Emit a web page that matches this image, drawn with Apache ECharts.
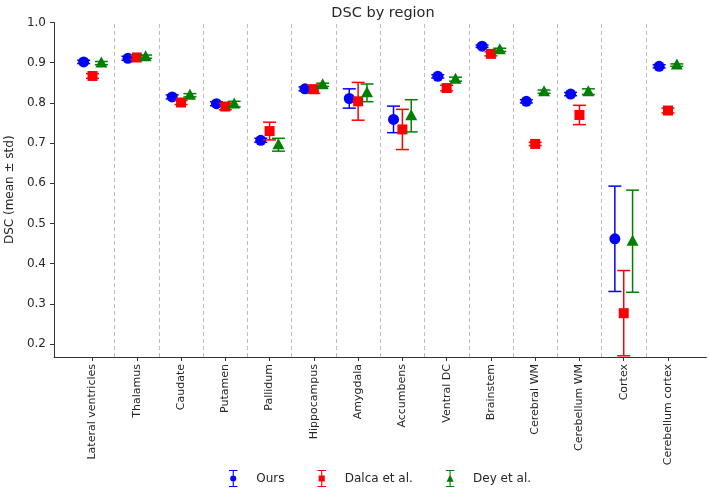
<!DOCTYPE html>
<html>
<head>
<meta charset="utf-8">
<script src="https://cdn.jsdelivr.net/npm/echarts@6/dist/echarts.min.js"></script>
<style>
  html, body { margin: 0; padding: 0; background: #fff; }
  #ch-main { width: 709px; height: 498px; }
</style>
</head>
<body>
<div id="ch-main"></div>
<script>
let regions = ['Lateral ventricles', 'Thalamus', 'Caudate', 'Putamen', 'Pallidum', 'Hippocampus', 'Amygdala',
    'Accumbens', 'Ventral DC', 'Brainstem', 'Cerebral WM', 'Cerebellum WM', 'Cortex', 'Cerebellum cortex']

let oursMean = [0.902, 0.911, 0.815, 0.798, 0.707, 0.835, 0.811, 0.759, 0.866, 0.941, 0.804, 0.822, 0.462, 0.891]
let oursStd = [0.004, 0.005, 0.005, 0.005, 0.005, 0.005, 0.024, 0.033, 0.004, 0.003, 0.004, 0.004, 0.131, 0.004]
let dalcaMean = [0.867, 0.913, 0.801, 0.791, 0.730, 0.834, 0.804, 0.734, 0.837, 0.922, 0.698, 0.770, 0.277, 0.781]
let dalcaStd = [0.006, 0.005, 0.005, 0.008, 0.022, 0.010, 0.047, 0.050, 0.007, 0.005, 0.004, 0.024, 0.106, 0.006]
let deyMean = [0.899, 0.915, 0.819, 0.797, 0.696, 0.845, 0.825, 0.768, 0.859, 0.932, 0.828, 0.828, 0.456, 0.894]
let deyStd = [0.004, 0.004, 0.004, 0.007, 0.016, 0.004, 0.022, 0.040, 0.005, 0.004, 0.004, 0.007, 0.127, 0.003]

let yTicks = [0.2, 0.3, 0.4, 0.5, 0.6, 0.7, 0.8, 0.9, 1.0]

const FONT = 'DejaVu Sans'
const TXT = '#262626'

function errSeries(name, mean, std, offset, color, marker) {
    return {
        name: name,
        type: 'custom',
        data: regions.map((r, i) => [i + offset, mean[i], std[i]]),
        renderItem: function (params, api) {
            let x = api.value(0), m = api.value(1), s = api.value(2)
            let top = api.coord([x, m + s])
            let bot = api.coord([x, m - s])
            let c = api.coord([x, m])
            let cap = 6.5
            let ls = { stroke: color, lineWidth: 1.5 }
            let children = [
                { type: 'line', shape: { x1: c[0], y1: top[1], x2: c[0], y2: bot[1] }, style: ls },
                { type: 'line', shape: { x1: c[0] - cap, y1: top[1], x2: c[0] + cap, y2: top[1] }, style: ls },
                { type: 'line', shape: { x1: c[0] - cap, y1: bot[1], x2: c[0] + cap, y2: bot[1] }, style: ls }
            ]
            if (marker === 'circle') {
                children.push({ type: 'circle', shape: { cx: c[0], cy: c[1], r: 5.5 }, style: { fill: color } })
            } else if (marker === 'square') {
                children.push({ type: 'rect', shape: { x: c[0] - 5, y: c[1] - 5, width: 10, height: 10 }, style: { fill: color } })
            } else {
                children.push({ type: 'polygon', shape: { points: [[c[0], c[1] - 6.5], [c[0] + 6, c[1] + 4.5], [c[0] - 6, c[1] + 4.5]] }, style: { fill: color } })
            }
            return { type: 'group', children: children }
        }
    }
}

// error bar icons for the legend
let capPath = 'M0,0H10V1.3H0Z M0,18.7H10V20H0Z M4.35,0H5.65V20H4.35Z '
let iconCircle = 'path://' + capPath + 'M1.4,10A3.6,3.6 0 1,1 8.6,10A3.6,3.6 0 1,1 1.4,10Z'
let iconSquare = 'path://' + capPath + 'M1.4,6.4H8.6V13.6H1.4Z'
let iconTri = 'path://' + capPath + 'M5,5.2L9.2,13.8H0.8Z'

let main = echarts.init(document.getElementById('ch-main'))

let series = [
    errSeries('Ours', oursMean, oursStd, -0.2, '#0000ff', 'circle'),
    errSeries('Dalca et al.', dalcaMean, dalcaStd, 0, '#ff0000', 'square'),
    errSeries('Dey et al.', deyMean, deyStd, 0.2, '#008000', 'triangle')
]

// dashed separators between regions
series[0].markLine = {
    silent: true,
    symbol: 'none',
    label: { show: false },
    lineStyle: { color: '#bdbdbd', type: [4, 3], width: 1 },
    data: regions.slice(0, -1).map((r, i) => ({ xAxis: i + 0.5 }))
}

let option = {
    animation: false,
    textStyle: { fontFamily: FONT },
    title: {
        text: 'DSC by region',
        left: 378,
        textAlign: 'center',
        top: 1,
        textStyle: { fontFamily: FONT, fontSize: 14.5, fontWeight: 'normal', color: TXT }
    },
    legend: {
        bottom: 6,
        left: 224,
        itemGap: 33,
        itemWidth: 10,
        itemHeight: 17,
        textStyle: { fontFamily: FONT, fontSize: 12, color: TXT, padding: [0, 0, 0, 13] },
        data: [
            { name: 'Ours', icon: iconCircle, itemStyle: { color: '#0000ff' } },
            { name: 'Dalca et al.', icon: iconSquare, itemStyle: { color: '#ff0000' } },
            { name: 'Dey et al.', icon: iconTri, itemStyle: { color: '#008000' } }
        ]
    },
    grid: { left: 54, right: 2.5, top: 22.5, bottom: 141, containLabel: false, outerBoundsMode: 'none' },
    xAxis: {
        type: 'value',
        min: -0.87,
        max: 13.87,
        axisLine: { onZero: false, lineStyle: { color: '#333', width: 1 } },
        axisTick: { show: true, length: 4, customValues: regions.map((r, i) => i), lineStyle: { color: '#333' } },
        axisLabel: {
            customValues: regions.map((r, i) => i),
            rotate: 90,
            margin: 7,
            fontFamily: FONT,
            fontSize: 11,
            color: TXT,
            formatter: v => regions[Math.round(v)]
        },
        splitLine: { show: false }
    },
    yAxis: {
        type: 'value',
        min: 0.168,
        max: 1.0,
        name: 'DSC (mean ± std)',
        nameLocation: 'middle',
        nameGap: 37,
        nameTextStyle: { fontFamily: FONT, fontSize: 12, color: TXT },
        axisLine: { show: true, onZero: false, lineStyle: { color: '#333', width: 1 } },
        axisTick: { show: true, length: 4, customValues: yTicks, lineStyle: { color: '#333' } },
        axisLabel: {
            customValues: yTicks,
            margin: 8,
            fontFamily: FONT,
            fontSize: 12,
            color: TXT,
            formatter: v => v.toFixed(1)
        },
        splitLine: { show: false }
    },
    series: series
}

main.setOption(option)
</script>
</body>
</html>
